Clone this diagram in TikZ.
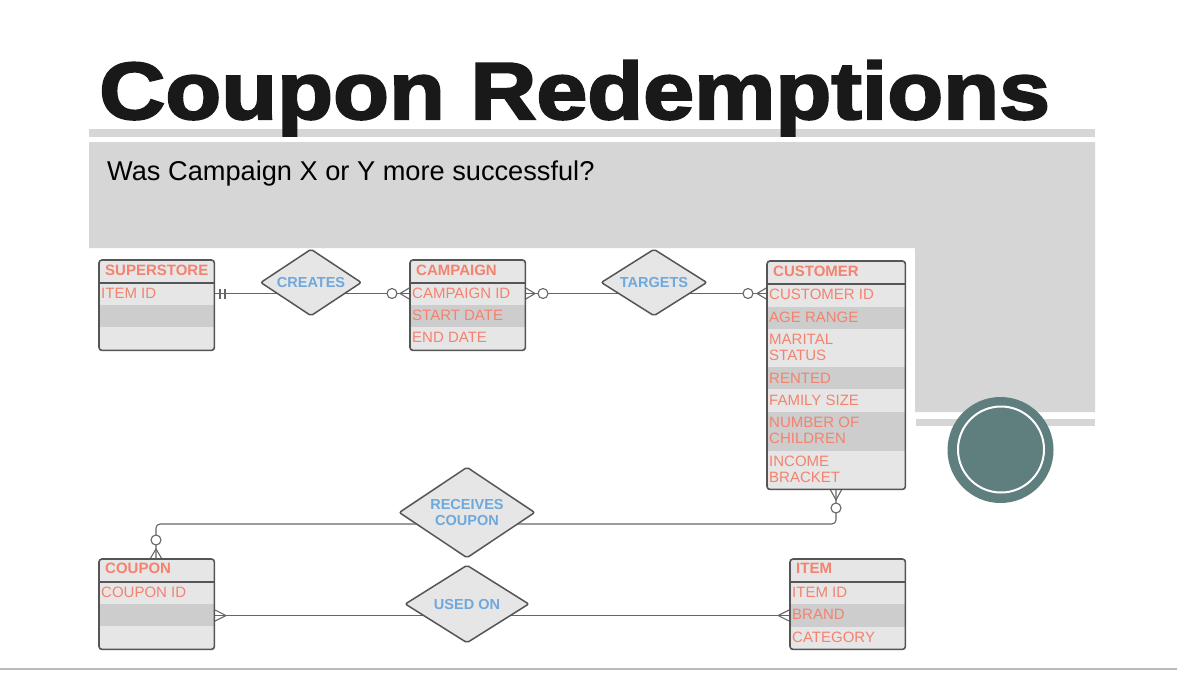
\documentclass[tikz,border=0pt]{standalone}
\usepackage{fontspec}
\setmainfont{Liberation Sans}
\newfontfamily\titlefont{Liberation Sans}[BoldFeatures={FakeBold=2.5}]
\usetikzlibrary{shapes.geometric}
\definecolor{panel}{HTML}{D6D6D6}
\definecolor{salmon}{HTML}{F4826E}
\definecolor{relblue}{HTML}{6FA8DC}
\definecolor{rowlight}{HTML}{E6E6E6}
\definecolor{rowdark}{HTML}{CDCDCD}
\definecolor{edgegray}{HTML}{555555}
\definecolor{linegray}{HTML}{666666}
\definecolor{tealc}{HTML}{5E7F7E}
\tikzset{
  entbg/.style={fill=rowlight, draw=none, rounded corners=3pt, inner sep=0pt, anchor=north west},
  entframe/.style={draw=edgegray, line width=1.6pt, rounded corners=3pt},
  hdrline/.style={draw=edgegray, line width=1.6pt},
  hdrtext/.style={anchor=base west, inner sep=0pt, text=salmon, font=\fontsize{15}{15}\selectfont\bfseries},
  attrtext/.style={anchor=base west, inner sep=0pt, text=salmon, font=\fontsize{15}{15}\selectfont},
  reltext/.style={diamond, aspect=1.5, draw=edgegray, fill=rowlight, line width=1.5pt, rounded corners=2pt, inner sep=0pt, text=relblue, align=center, font=\fontsize{14.5}{16.5}\selectfont\bfseries},
  conn/.style={draw=linegray, line width=1.1pt},
  optcircle/.style={draw=linegray, line width=1.1pt, fill=white},
}
\begin{document}
\begin{tikzpicture}[x=1pt,y=-1pt]
\useasboundingbox (0,0) rectangle (1177,672);
\fill[white] (0,0) rectangle (1177,672);
% textured panel (flat)
\fill[panel] (89,129) rectangle (1095,137);
\fill[panel] (89,142) -- (1095,142) -- (1095,412) -- (915,412) -- (915,248) -- (89,248) -- cycle;
\fill[panel] (916,419) rectangle (1095,426);
\draw[draw=gray!55, line width=2pt] (0,668.5) -- (1177,668.5);
% title and subtitle
\node[anchor=base west, inner sep=0pt, text=black!90, font=\titlefont\fontsize{81}{81}\selectfont\bfseries, xscale=1.13] (title) at (99,119) {Coupon Redemptions};
\node[anchor=base west, inner sep=0pt, text=black, font=\fontsize{27.2}{27.2}\selectfont] (subtitle) at (107,180.5) {Was Campaign X or Y more successful?};
% teal circle
\fill[tealc] (1000.5,450) circle[radius=53];
\draw[white, line width=2pt] (1001,449.5) circle[radius=43];

% attachment coordinates
\coordinate (ssR) at (214,293.5);
\coordinate (campL) at (410,293.5);
\coordinate (campR) at (525,293.5);
\coordinate (custL) at (767,293.5);
\coordinate (custB) at (836,489);
\coordinate (bendA) at (836,524);
\coordinate (bendB) at (156,524);
\coordinate (coupT) at (156,559);
\coordinate (coupR) at (214,615.5);
\coordinate (itemL) at (790,615.5);

% connectors
\draw[conn] (ssR) -- (campL);
\draw[conn] (campR) -- (custL);
\draw[conn, rounded corners=4pt] (custB) -- (bendA) -- (bendB) -- (coupT);
\draw[conn] (coupR) -- (itemL);
% one-and-only-one marks
\draw[conn] ([xshift=6pt,yshift=5pt]ssR) -- ([xshift=6pt,yshift=-5pt]ssR);
\draw[conn] ([xshift=11pt,yshift=5pt]ssR) -- ([xshift=11pt,yshift=-5pt]ssR);
% crow's feet
\draw[conn] ([yshift=6pt]campL) -- ([xshift=-10pt]campL) -- ([yshift=-6pt]campL);
\draw[conn] ([yshift=6pt]campR) -- ([xshift=10pt]campR) -- ([yshift=-6pt]campR);
\draw[conn] ([yshift=6pt]custL) -- ([xshift=-10pt]custL) -- ([yshift=-6pt]custL);
\draw[conn] ([xshift=-6pt]custB) -- ([yshift=-11pt]custB) -- ([xshift=6pt]custB);
\draw[conn] ([xshift=-6pt]coupT) -- ([yshift=10pt]coupT) -- ([xshift=6pt]coupT);
\draw[conn] ([yshift=6pt]coupR) -- ([xshift=12pt]coupR) -- ([yshift=-6pt]coupR);
\draw[conn] ([yshift=6pt]itemL) -- ([xshift=-12pt]itemL) -- ([yshift=-6pt]itemL);
% zero circles
\draw[optcircle] ([xshift=-18pt]campL) circle[radius=5];
\draw[optcircle] ([xshift=18pt]campR) circle[radius=5];
\draw[optcircle] ([xshift=-19pt]custL) circle[radius=5];
\draw[optcircle] ([yshift=-19pt]custB) circle[radius=5];
\draw[optcircle] ([yshift=19pt]coupT) circle[radius=5];

% relationships
\node[reltext, aspect=1.5, minimum width=101pt, minimum height=67pt] (creates) at (311,282.5) {CREATES};
\node[reltext, aspect=1.58, minimum width=106pt, minimum height=67pt] (targets) at (654,282.5) {TARGETS};
\node[reltext, aspect=1.5, minimum width=136pt, minimum height=91pt] (receives) at (467,512.5) {RECEIVES\\COUPON};
\node[reltext, aspect=1.6, minimum width=124pt, minimum height=78pt] (usedon) at (467,604) {USED ON};

% SUPERSTORE
\node[entbg, minimum width=115pt, minimum height=90pt] (ss) at (99,260) {};
\fill[rowdark] (99,305) rectangle (214,327);
\draw[hdrline] (99,283) -- (214,283);
\draw[entframe] (ss.north west) rectangle (ss.south east);
\node[hdrtext] (ssH) at (105,275) {SUPERSTORE};
\node[attrtext] (ssA1) at (101,298) {ITEM ID};

% CAMPAIGN
\node[entbg, minimum width=115pt, minimum height=90pt] (camp) at (410,260) {};
\fill[rowdark] (410,305) rectangle (525,327);
\draw[hdrline] (410,283) -- (525,283);
\draw[entframe] (camp.north west) rectangle (camp.south east);
\node[hdrtext] (campH) at (416,275) {CAMPAIGN};
\node[attrtext] (campA1) at (412,298) {CAMPAIGN ID};
\node[attrtext] (campA2) at (412,320) {START DATE};
\node[attrtext] (campA3) at (412,342) {END DATE};

% CUSTOMER
\node[entbg, minimum width=138pt, minimum height=228pt] (cust) at (767,261) {};
\fill[rowdark] (767,306.5) rectangle (905,328.5);
\fill[rowdark] (767,367) rectangle (905,389);
\fill[rowdark] (767,411.5) rectangle (905,451);
\draw[hdrline] (767,284) -- (905,284);
\draw[entframe] (cust.north west) rectangle (cust.south east);
\node[hdrtext] (custH) at (773,276) {CUSTOMER};
\node[attrtext] (custA1) at (769,299.5) {CUSTOMER ID};
\node[attrtext] (custA2) at (769,322) {AGE RANGE};
\node[attrtext] (custA3) at (769,344) {MARITAL};
\node[attrtext] (custA3b) at (769,360) {STATUS};
\node[attrtext] (custA4) at (769,383) {RENTED};
\node[attrtext] (custA5) at (769,405) {FAMILY SIZE};
\node[attrtext] (custA6) at (769,427.5) {NUMBER OF};
\node[attrtext] (custA6b) at (769,443.5) {CHILDREN};
\node[attrtext] (custA7) at (769,466) {INCOME};
\node[attrtext] (custA7b) at (769,482.5) {BRACKET};

% COUPON
\node[entbg, minimum width=115pt, minimum height=90pt] (coup) at (99,559) {};
\fill[rowdark] (99,604) rectangle (214,626);
\draw[hdrline] (99,582) -- (214,582);
\draw[entframe] (coup.north west) rectangle (coup.south east);
\node[hdrtext] (coupH) at (105,573.5) {COUPON};
\node[attrtext] (coupA1) at (101,597) {COUPON ID};

% ITEM
\node[entbg, minimum width=115pt, minimum height=90pt] (item) at (790,559) {};
\fill[rowdark] (790,604) rectangle (905,627);
\draw[hdrline] (790,582) -- (905,582);
\draw[entframe] (item.north west) rectangle (item.south east);
\node[hdrtext] (itemH) at (796,573.5) {ITEM};
\node[attrtext] (itemA1) at (792,597) {ITEM ID};
\node[attrtext] (itemA2) at (792,619.5) {BRAND};
\node[attrtext] (itemA3) at (792,642) {CATEGORY};
\end{tikzpicture}
\end{document}
